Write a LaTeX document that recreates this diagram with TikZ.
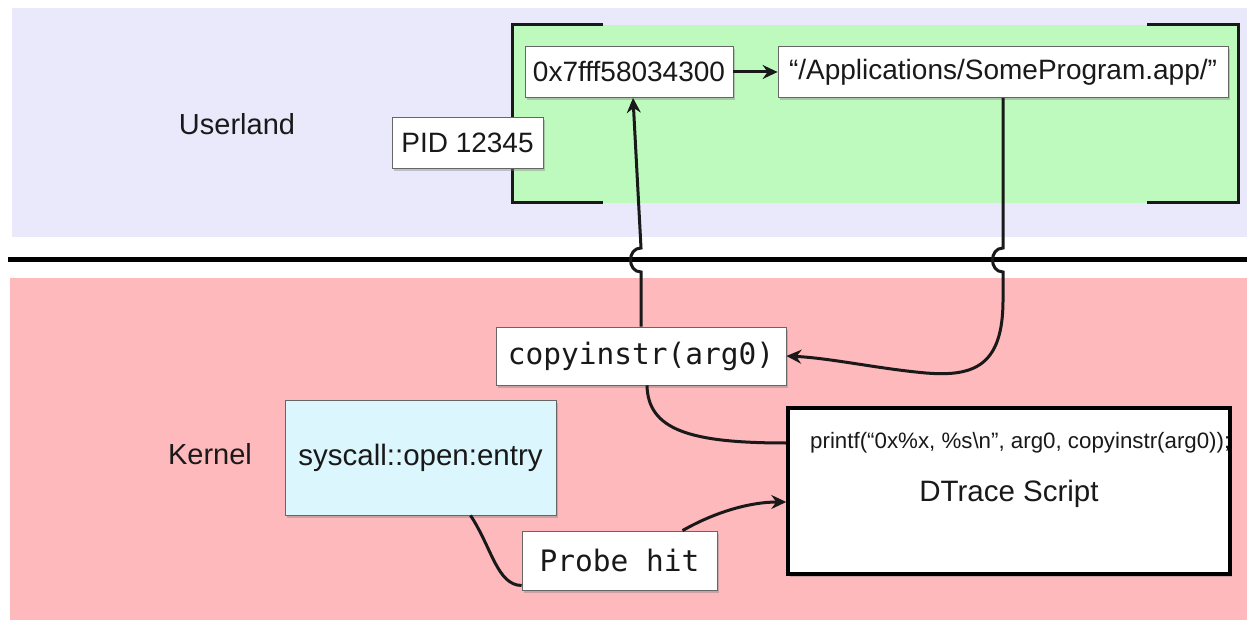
\documentclass[tikz,border=0pt]{standalone}
\usepackage{fontspec}
\setmainfont{Liberation Sans}
\setmonofont{DejaVu Sans Mono}
\usetikzlibrary{arrows.meta,shadows,calc}
\definecolor{lav}{RGB}{233,233,251}
\definecolor{grn}{RGB}{190,250,190}
\definecolor{pinkk}{RGB}{253,185,187}
\definecolor{cyanbox}{RGB}{219,246,252}
\definecolor{ink}{RGB}{25,25,25}
\begin{document}
\begin{tikzpicture}[x=1pt,y=-1pt,
  box/.style={draw=black!60, line width=0.8pt, fill=white, inner sep=0pt, text=ink,
    drop shadow={shadow xshift=2pt,shadow yshift=-3pt,opacity=0.4}},
  conn/.style={line width=3pt, draw=ink},
  arr/.style={-{Stealth[length=15pt,width=14pt,inset=5pt]}},
  lbl/.style={font=\fontsize{29}{34}\selectfont, text=ink},
  sansbig/.style={font=\fontsize{28}{32}\selectfont},
  monobig/.style={font=\ttfamily\fontsize{29.5}{34}\selectfont},
  bracket/.style={line width=3pt, draw=ink},
]
\useasboundingbox (0,0) rectangle (1247,620);
\fill[white] (0,0) rectangle (1247,620);
% regions
\fill[lav] (12,8) rectangle (1247,237);
\fill[pinkk] (10,278) rectangle (1247,620);
\draw[line width=5pt, draw=black] (8,260) -- (1247,260);
% process area
\fill[grn] (512,25) rectangle (1238,203);
\draw[bracket] (603,25) -- (512,25) -- (512,203) -- (603,203);
\draw[bracket] (1147,25) -- (1238,25) -- (1238,203) -- (1147,203);
% labels
\node[lbl] (user) at (237,124) {Userland};
\node[lbl] (kern) at (210,454) {Kernel};
% boxes
\node[box, sansbig, minimum width=151pt, minimum height=51pt] (pid) at (467.5,142.5) {PID 12345};
\node[box, sansbig, minimum width=208pt, minimum height=51pt] (zero) at (629,72) {0x7fff58034300};
\node[box, sansbig, minimum width=450pt, minimum height=51pt] (apps) at (1003,72) {“/Applications/SomeProgram.app/”};
\node[box, monobig, minimum width=290pt, minimum height=58pt] (copy) at (641,356) {copyinstr(arg0)};
\node[box, fill=cyanbox, font=\fontsize{29.5}{34}\selectfont, minimum width=271pt, minimum height=115pt] (sys) at (420.5,457.5) {syscall::open:entry};
\node[box, monobig, minimum width=195pt, minimum height=59pt] (probe) at (619.5,560.5) {Probe hit};
\node[box, draw=black, line width=3.5pt, minimum width=442pt, minimum height=166pt] (dt) at (1009,491) {};
\begin{scope}
\clip ($(dt.north west)+(2,2)$) rectangle ($(dt.south east)+(-2,-2)$);
\node[anchor=west, inner sep=0pt, text=ink, font=\fontsize{22.3}{26}\selectfont] (pf) at (810,443) {printf(“0x\%x, \%s\textbackslash n”, arg0, copyinstr(arg0));};
\end{scope}
\node[text=ink, inner sep=0pt, font=\fontsize{29.5}{34}\selectfont] (dts) at (1009,494) {DTrace Script};
% connectors
\draw[conn,arr] (copy.north) -- (641,272) .. controls (627,272) and (627,248) .. (641,248) -- ($(zero.south)+(4,0)$);
\draw[conn,arr] (apps.south) -- (1003,248) .. controls (989,248) and (989,272) .. (1003,272) -- (1003,300)
   .. controls (1003,365) and (975,377) .. (926,373) .. controls (880,369) and (830,358) .. (copy.east);
\draw[conn] ($(copy.south)+(6,0)$) .. controls (648,430) and (690,443) .. ($(dt.west)+(0,-48)$);
\draw[conn] ($(sys.south)+(50,0)$) .. controls (492,548) and (497,585) .. ($(probe.west)+(0,25)$);
\draw[conn,arr] ($(probe.north)+(63,0)$) .. controls (715,512) and (750,502) .. ($(dt.west)+(0,11)$);
\draw[conn,arr] (zero.east) -- (apps.west);
\end{tikzpicture}
\end{document}
